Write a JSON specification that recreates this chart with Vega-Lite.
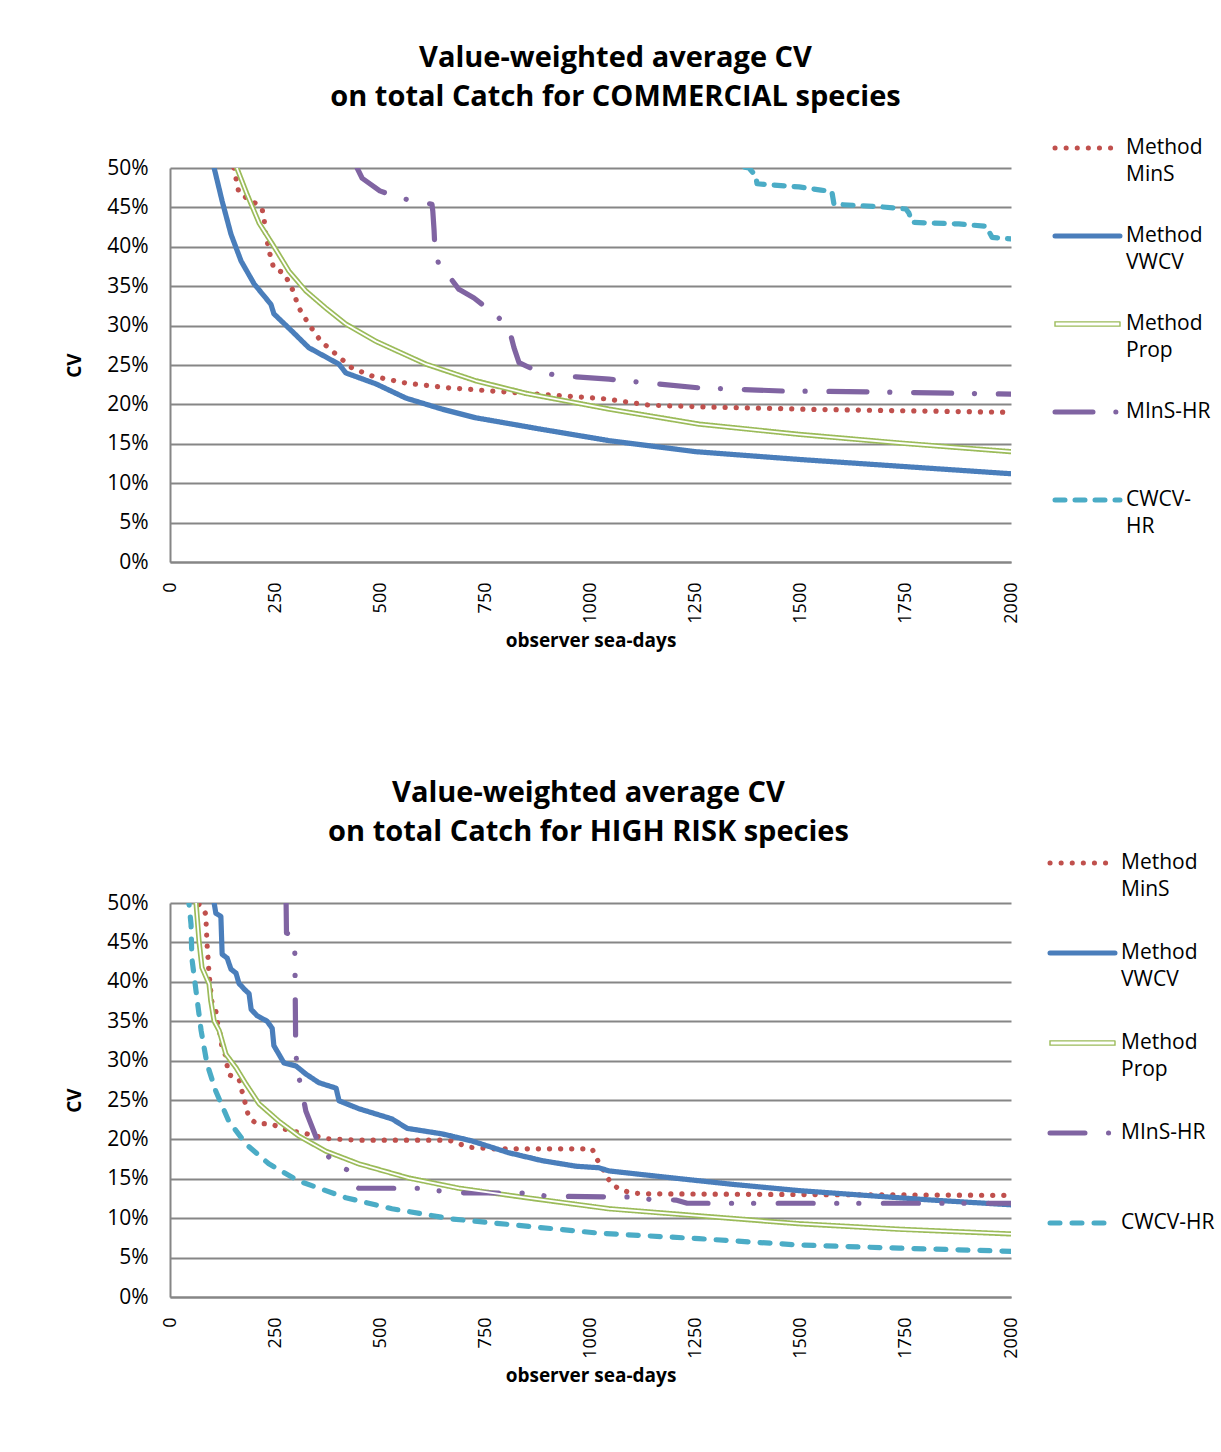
{
  "$schema": "https://vega.github.io/schema/vega-lite/v6.json",
  "background": "white",
  "padding": {"left": 65, "top": 43, "right": 5, "bottom": 5},
  "config": {
    "font": "Open Sans",
    "view": {"stroke": null},
    "axis": {
      "domainColor": "#868686", "domainWidth": 2,
      "gridColor": "#868686", "gridWidth": 2,
      "ticks": false,
      "labelFont": "Open Sans", "labelColor": "black",
      "titleFont": "Open Sans", "titleFontWeight": "bold", "titleColor": "black", "titleFontSize": 19
    },
    "axisX": {"grid": false, "labelAngle": -90, "labelPadding": 20, "labelFontSize": 18, "titlePadding": 8, "format": "d"},
    "axisY": {"grid": true, "labelPadding": 22, "labelFontSize": 21, "titlePadding": 22},
    "title": {"font": "Open Sans", "fontSize": 29, "fontWeight": "bold", "lineHeight": 39, "anchor": "middle", "frame": "group", "color": "black"},
    "legend": {
      "orient": "none", "title": null, "padding": 0, "symbolType": "stroke", "symbolSize": 4225,
      "symbolStrokeWidth": 5, "labelFont": "Open Sans", "labelFontSize": 21, "labelColor": "black",
      "labelLimit": 300, "labelOffset": 28, "labelBaseline": "alphabetic", "direction": "vertical", "columns": 1
    }
  },
  "datasets": {
    "commercial": [
      {"series": "Method MinS", "days": 152, "cv": 50.0}, {"series": "Method MinS", "days": 155, "cv": 49.2},
      {"series": "Method MinS", "days": 164, "cv": 46.8}, {"series": "Method MinS", "days": 207, "cv": 45.4},
      {"series": "Method MinS", "days": 219, "cv": 44.8}, {"series": "Method MinS", "days": 224, "cv": 43.5},
      {"series": "Method MinS", "days": 226, "cv": 42.0}, {"series": "Method MinS", "days": 231, "cv": 40.7},
      {"series": "Method MinS", "days": 235, "cv": 39.6}, {"series": "Method MinS", "days": 247, "cv": 37.2},
      {"series": "Method MinS", "days": 271, "cv": 36.7}, {"series": "Method MinS", "days": 291, "cv": 34.6},
      {"series": "Method MinS", "days": 307, "cv": 32.2}, {"series": "Method MinS", "days": 331, "cv": 30.1},
      {"series": "Method MinS", "days": 359, "cv": 28.0}, {"series": "Method MinS", "days": 394, "cv": 26.4},
      {"series": "Method MinS", "days": 433, "cv": 24.6}, {"series": "Method MinS", "days": 481, "cv": 23.6},
      {"series": "Method MinS", "days": 561, "cv": 22.7}, {"series": "Method MinS", "days": 663, "cv": 22.1},
      {"series": "Method MinS", "days": 766, "cv": 21.7}, {"series": "Method MinS", "days": 877, "cv": 21.3},
      {"series": "Method MinS", "days": 1036, "cv": 20.7}, {"series": "Method MinS", "days": 1139, "cv": 19.9},
      {"series": "Method MinS", "days": 1258, "cv": 19.7}, {"series": "Method MinS", "days": 1496, "cv": 19.4},
      {"series": "Method MinS", "days": 1734, "cv": 19.2}, {"series": "Method MinS", "days": 2000, "cv": 19.0},

      {"series": "Method VWCV", "days": 100, "cv": 51.0}, {"series": "Method VWCV", "days": 105, "cv": 50.0},
      {"series": "Method VWCV", "days": 124, "cv": 45.8}, {"series": "Method VWCV", "days": 145, "cv": 41.6},
      {"series": "Method VWCV", "days": 169, "cv": 38.2}, {"series": "Method VWCV", "days": 200, "cv": 35.3},
      {"series": "Method VWCV", "days": 240, "cv": 32.7}, {"series": "Method VWCV", "days": 247, "cv": 31.5},
      {"series": "Method VWCV", "days": 290, "cv": 29.3}, {"series": "Method VWCV", "days": 330, "cv": 27.2},
      {"series": "Method VWCV", "days": 402, "cv": 25.1}, {"series": "Method VWCV", "days": 418, "cv": 24.0},
      {"series": "Method VWCV", "days": 490, "cv": 22.6}, {"series": "Method VWCV", "days": 561, "cv": 20.8},
      {"series": "Method VWCV", "days": 647, "cv": 19.4}, {"series": "Method VWCV", "days": 727, "cv": 18.3},
      {"series": "Method VWCV", "days": 877, "cv": 16.9}, {"series": "Method VWCV", "days": 1044, "cv": 15.4},
      {"series": "Method VWCV", "days": 1250, "cv": 14.0}, {"series": "Method VWCV", "days": 1500, "cv": 13.0},
      {"series": "Method VWCV", "days": 1750, "cv": 12.1}, {"series": "Method VWCV", "days": 2000, "cv": 11.2},

      {"series": "Method Prop", "days": 159, "cv": 50.0}, {"series": "Method Prop", "days": 183, "cv": 46.7},
      {"series": "Method Prop", "days": 212, "cv": 43.0}, {"series": "Method Prop", "days": 243, "cv": 40.4},
      {"series": "Method Prop", "days": 283, "cv": 36.9}, {"series": "Method Prop", "days": 323, "cv": 34.4},
      {"series": "Method Prop", "days": 371, "cv": 32.2}, {"series": "Method Prop", "days": 418, "cv": 30.2},
      {"series": "Method Prop", "days": 490, "cv": 28.0}, {"series": "Method Prop", "days": 609, "cv": 25.1},
      {"series": "Method Prop", "days": 727, "cv": 23.0}, {"series": "Method Prop", "days": 846, "cv": 21.4},
      {"series": "Method Prop", "days": 1044, "cv": 19.4}, {"series": "Method Prop", "days": 1258, "cv": 17.5},
      {"series": "Method Prop", "days": 1496, "cv": 16.2}, {"series": "Method Prop", "days": 1734, "cv": 15.1},
      {"series": "Method Prop", "days": 2000, "cv": 14.0},

      {"series": "MInS-HR", "days": 445, "cv": 50.0}, {"series": "MInS-HR", "days": 457, "cv": 48.7},
      {"series": "MInS-HR", "days": 499, "cv": 47.1}, {"series": "MInS-HR", "days": 545, "cv": 46.2},
      {"series": "MInS-HR", "days": 623, "cv": 45.4}, {"series": "MInS-HR", "days": 625, "cv": 44.5},
      {"series": "MInS-HR", "days": 628, "cv": 42.1}, {"series": "MInS-HR", "days": 630, "cv": 39.7},
      {"series": "MInS-HR", "days": 638, "cv": 38.0}, {"series": "MInS-HR", "days": 647, "cv": 36.9},
      {"series": "MInS-HR", "days": 663, "cv": 36.3}, {"series": "MInS-HR", "days": 687, "cv": 34.6},
      {"series": "MInS-HR", "days": 723, "cv": 33.5}, {"series": "MInS-HR", "days": 778, "cv": 31.2},
      {"series": "MInS-HR", "days": 806, "cv": 29.7}, {"series": "MInS-HR", "days": 818, "cv": 27.2},
      {"series": "MInS-HR", "days": 830, "cv": 25.3}, {"series": "MInS-HR", "days": 866, "cv": 24.4},
      {"series": "MInS-HR", "days": 916, "cv": 23.7}, {"series": "MInS-HR", "days": 966, "cv": 23.5},
      {"series": "MInS-HR", "days": 1044, "cv": 23.2}, {"series": "MInS-HR", "days": 1158, "cv": 22.6},
      {"series": "MInS-HR", "days": 1258, "cv": 22.1}, {"series": "MInS-HR", "days": 1455, "cv": 21.7},
      {"series": "MInS-HR", "days": 1655, "cv": 21.6}, {"series": "MInS-HR", "days": 2000, "cv": 21.3},

      {"series": "CWCV-HR", "days": 1320, "cv": 50.6}, {"series": "CWCV-HR", "days": 1377, "cv": 50.0},
      {"series": "CWCV-HR", "days": 1393, "cv": 49.0}, {"series": "CWCV-HR", "days": 1396, "cv": 48.0},
      {"series": "CWCV-HR", "days": 1496, "cv": 47.6}, {"series": "CWCV-HR", "days": 1548, "cv": 47.2},
      {"series": "CWCV-HR", "days": 1574, "cv": 47.0}, {"series": "CWCV-HR", "days": 1579, "cv": 45.4},
      {"series": "CWCV-HR", "days": 1686, "cv": 45.1}, {"series": "CWCV-HR", "days": 1750, "cv": 44.8},
      {"series": "CWCV-HR", "days": 1757, "cv": 44.3}, {"series": "CWCV-HR", "days": 1765, "cv": 43.1},
      {"series": "CWCV-HR", "days": 1876, "cv": 42.9}, {"series": "CWCV-HR", "days": 1941, "cv": 42.6},
      {"series": "CWCV-HR", "days": 1955, "cv": 41.2}, {"series": "CWCV-HR", "days": 2000, "cv": 41.0}
    ],
    "highrisk": [
      {"series": "Method MinS", "days": 60, "cv": 51.0}, {"series": "Method MinS", "days": 62, "cv": 50.0},
      {"series": "Method MinS", "days": 76, "cv": 49.6}, {"series": "Method MinS", "days": 85, "cv": 48.6},
      {"series": "Method MinS", "days": 86, "cv": 47.3}, {"series": "Method MinS", "days": 87, "cv": 46.1},
      {"series": "Method MinS", "days": 88, "cv": 44.8}, {"series": "Method MinS", "days": 90, "cv": 43.5},
      {"series": "Method MinS", "days": 91, "cv": 42.3}, {"series": "Method MinS", "days": 93, "cv": 41.1},
      {"series": "Method MinS", "days": 95, "cv": 39.8}, {"series": "Method MinS", "days": 100, "cv": 37.3},
      {"series": "Method MinS", "days": 109, "cv": 36.3}, {"series": "Method MinS", "days": 112, "cv": 35.0},
      {"series": "Method MinS", "days": 117, "cv": 34.0}, {"series": "Method MinS", "days": 121, "cv": 32.7},
      {"series": "Method MinS", "days": 124, "cv": 31.5}, {"series": "Method MinS", "days": 133, "cv": 30.6},
      {"series": "Method MinS", "days": 136, "cv": 29.3}, {"series": "Method MinS", "days": 140, "cv": 28.2},
      {"series": "Method MinS", "days": 164, "cv": 27.7}, {"series": "Method MinS", "days": 169, "cv": 26.5},
      {"series": "Method MinS", "days": 176, "cv": 25.3}, {"series": "Method MinS", "days": 181, "cv": 24.0},
      {"series": "Method MinS", "days": 188, "cv": 22.8}, {"series": "Method MinS", "days": 205, "cv": 22.0},
      {"series": "Method MinS", "days": 235, "cv": 22.0}, {"series": "Method MinS", "days": 254, "cv": 21.7},
      {"series": "Method MinS", "days": 278, "cv": 21.2}, {"series": "Method MinS", "days": 326, "cv": 20.7},
      {"series": "Method MinS", "days": 371, "cv": 20.1}, {"series": "Method MinS", "days": 449, "cv": 19.9},
      {"series": "Method MinS", "days": 663, "cv": 19.9}, {"series": "Method MinS", "days": 711, "cv": 19.0},
      {"series": "Method MinS", "days": 766, "cv": 18.8}, {"series": "Method MinS", "days": 1004, "cv": 18.8},
      {"series": "Method MinS", "days": 1013, "cv": 17.7}, {"series": "Method MinS", "days": 1032, "cv": 16.0},
      {"series": "Method MinS", "days": 1037, "cv": 15.4}, {"series": "Method MinS", "days": 1051, "cv": 14.3},
      {"series": "Method MinS", "days": 1072, "cv": 13.6}, {"series": "Method MinS", "days": 1099, "cv": 13.2},
      {"series": "Method MinS", "days": 1123, "cv": 13.1}, {"series": "Method MinS", "days": 1500, "cv": 13.0},
      {"series": "Method MinS", "days": 2000, "cv": 12.9},

      {"series": "Method VWCV", "days": 105, "cv": 50.0}, {"series": "Method VWCV", "days": 109, "cv": 48.7},
      {"series": "Method VWCV", "days": 121, "cv": 48.3}, {"series": "Method VWCV", "days": 124, "cv": 43.5},
      {"series": "Method VWCV", "days": 136, "cv": 43.0}, {"series": "Method VWCV", "days": 145, "cv": 41.6},
      {"series": "Method VWCV", "days": 157, "cv": 41.1}, {"series": "Method VWCV", "days": 164, "cv": 39.8},
      {"series": "Method VWCV", "days": 176, "cv": 39.1}, {"series": "Method VWCV", "days": 188, "cv": 38.5},
      {"series": "Method VWCV", "days": 193, "cv": 36.5}, {"series": "Method VWCV", "days": 207, "cv": 35.7},
      {"series": "Method VWCV", "days": 231, "cv": 35.0}, {"series": "Method VWCV", "days": 243, "cv": 34.1},
      {"series": "Method VWCV", "days": 247, "cv": 31.9}, {"series": "Method VWCV", "days": 259, "cv": 30.8},
      {"series": "Method VWCV", "days": 271, "cv": 29.7}, {"series": "Method VWCV", "days": 300, "cv": 29.3},
      {"series": "Method VWCV", "days": 323, "cv": 28.3}, {"series": "Method VWCV", "days": 354, "cv": 27.2},
      {"series": "Method VWCV", "days": 395, "cv": 26.5}, {"series": "Method VWCV", "days": 402, "cv": 24.9},
      {"series": "Method VWCV", "days": 449, "cv": 23.9}, {"series": "Method VWCV", "days": 528, "cv": 22.6},
      {"series": "Method VWCV", "days": 564, "cv": 21.4}, {"series": "Method VWCV", "days": 647, "cv": 20.7},
      {"series": "Method VWCV", "days": 718, "cv": 19.8}, {"series": "Method VWCV", "days": 806, "cv": 18.3},
      {"series": "Method VWCV", "days": 885, "cv": 17.3}, {"series": "Method VWCV", "days": 965, "cv": 16.6},
      {"series": "Method VWCV", "days": 1020, "cv": 16.4}, {"series": "Method VWCV", "days": 1044, "cv": 16.0},
      {"series": "Method VWCV", "days": 1180, "cv": 15.2}, {"series": "Method VWCV", "days": 1337, "cv": 14.3},
      {"series": "Method VWCV", "days": 1496, "cv": 13.5}, {"series": "Method VWCV", "days": 1679, "cv": 12.8},
      {"series": "Method VWCV", "days": 1812, "cv": 12.3}, {"series": "Method VWCV", "days": 2000, "cv": 11.7},

      {"series": "Method Prop", "days": 62, "cv": 50.0}, {"series": "Method Prop", "days": 69, "cv": 45.2},
      {"series": "Method Prop", "days": 76, "cv": 41.8}, {"series": "Method Prop", "days": 93, "cv": 39.7},
      {"series": "Method Prop", "days": 97, "cv": 37.6}, {"series": "Method Prop", "days": 105, "cv": 35.0},
      {"series": "Method Prop", "days": 117, "cv": 33.8}, {"series": "Method Prop", "days": 133, "cv": 30.8},
      {"series": "Method Prop", "days": 157, "cv": 29.1}, {"series": "Method Prop", "days": 181, "cv": 27.0},
      {"series": "Method Prop", "days": 212, "cv": 24.5}, {"series": "Method Prop", "days": 259, "cv": 22.3},
      {"series": "Method Prop", "days": 307, "cv": 20.4}, {"series": "Method Prop", "days": 371, "cv": 18.5},
      {"series": "Method Prop", "days": 449, "cv": 16.9}, {"series": "Method Prop", "days": 568, "cv": 15.1},
      {"series": "Method Prop", "days": 687, "cv": 13.8}, {"series": "Method Prop", "days": 847, "cv": 12.6},
      {"series": "Method Prop", "days": 1044, "cv": 11.2}, {"series": "Method Prop", "days": 1258, "cv": 10.3},
      {"series": "Method Prop", "days": 1496, "cv": 9.3}, {"series": "Method Prop", "days": 1734, "cv": 8.6},
      {"series": "Method Prop", "days": 2000, "cv": 8.0},

      {"series": "MInS-HR", "days": 276, "cv": 50.5}, {"series": "MInS-HR", "days": 277, "cv": 46.2},
      {"series": "MInS-HR", "days": 293, "cv": 45.8}, {"series": "MInS-HR", "days": 297, "cv": 43.5},
      {"series": "MInS-HR", "days": 299, "cv": 31.2}, {"series": "MInS-HR", "days": 303, "cv": 28.7},
      {"series": "MInS-HR", "days": 314, "cv": 26.1}, {"series": "MInS-HR", "days": 323, "cv": 23.6},
      {"series": "MInS-HR", "days": 354, "cv": 19.4}, {"series": "MInS-HR", "days": 383, "cv": 17.4},
      {"series": "MInS-HR", "days": 395, "cv": 16.9}, {"series": "MInS-HR", "days": 426, "cv": 16.0},
      {"series": "MInS-HR", "days": 430, "cv": 14.5}, {"series": "MInS-HR", "days": 449, "cv": 13.8},
      {"series": "MInS-HR", "days": 609, "cv": 13.8}, {"series": "MInS-HR", "days": 633, "cv": 13.5},
      {"series": "MInS-HR", "days": 704, "cv": 13.2}, {"series": "MInS-HR", "days": 859, "cv": 13.2},
      {"series": "MInS-HR", "days": 894, "cv": 12.8}, {"series": "MInS-HR", "days": 1056, "cv": 12.7},
      {"series": "MInS-HR", "days": 1108, "cv": 12.7}, {"series": "MInS-HR", "days": 1139, "cv": 12.4},
      {"series": "MInS-HR", "days": 1203, "cv": 12.3}, {"series": "MInS-HR", "days": 1230, "cv": 11.9},
      {"series": "MInS-HR", "days": 2000, "cv": 11.9},

      {"series": "CWCV-HR", "days": 44, "cv": 51.0}, {"series": "CWCV-HR", "days": 45, "cv": 50.0},
      {"series": "CWCV-HR", "days": 50, "cv": 47.3}, {"series": "CWCV-HR", "days": 52, "cv": 43.0},
      {"series": "CWCV-HR", "days": 62, "cv": 38.8}, {"series": "CWCV-HR", "days": 74, "cv": 33.8},
      {"series": "CWCV-HR", "days": 88, "cv": 29.6}, {"series": "CWCV-HR", "days": 109, "cv": 26.1},
      {"series": "CWCV-HR", "days": 140, "cv": 22.3}, {"series": "CWCV-HR", "days": 181, "cv": 19.4},
      {"series": "CWCV-HR", "days": 235, "cv": 16.9}, {"series": "CWCV-HR", "days": 307, "cv": 14.7},
      {"series": "CWCV-HR", "days": 418, "cv": 12.6}, {"series": "CWCV-HR", "days": 528, "cv": 11.2},
      {"series": "CWCV-HR", "days": 671, "cv": 9.9}, {"series": "CWCV-HR", "days": 1020, "cv": 8.1},
      {"series": "CWCV-HR", "days": 1258, "cv": 7.4}, {"series": "CWCV-HR", "days": 1496, "cv": 6.6},
      {"series": "CWCV-HR", "days": 1734, "cv": 6.2}, {"series": "CWCV-HR", "days": 2000, "cv": 5.8}
    ]
  },
  "spacing": 127,
  "resolve": {"scale": {"x": "independent", "y": "independent", "color": "independent", "strokeDash": "independent"}},
  "vconcat": [
    {
      "title": {"text": ["Value-weighted average CV", "on total Catch for COMMERCIAL species"], "dx": 25, "offset": 26},
      "width": 841,
      "height": 394,
      "data": {"name": "commercial"},
      "encoding": {
        "x": {"field": "days", "type": "quantitative", "scale": {"domain": [0, 2000], "nice": false},
              "axis": {"values": [0, 250, 500, 750, 1000, 1250, 1500, 1750, 2000], "title": "observer sea-days"}},
        "y": {"field": "cv", "type": "quantitative", "scale": {"domain": [0, 50], "nice": false},
              "axis": {"values": [0, 5, 10, 15, 20, 25, 30, 35, 40, 45, 50], "labelExpr": "datum.value + '%'", "title": "CV"}}
      },
      "layer": [
        {
          "mark": {"type": "line", "clip": true, "strokeWidth": 5.2, "strokeCap": "round", "strokeJoin": "round"},
          "encoding": {
            "color": {
              "field": "series", "type": "nominal",
              "scale": {"domain": ["Method MinS", "Method VWCV", "Method Prop", "MInS-HR", "CWCV-HR"],
                        "range": ["#C0504D", "#4A7EBB", "#9BBB59", "#8064A2", "#4BACC6"]},
              "legend": {
                "legendX": 907, "legendY": -30.5, "rowPadding": 39,
                "labelExpr": "datum.label === 'CWCV-HR' ? ['CWCV-', 'HR'] : datum.label === 'MInS-HR' ? ['MInS-HR', ''] : split(datum.label, ' ')",
                "encode": {
                  "symbols": {"update": {
                    "shape": {"signal": "datum.value === 'Method Prop' ? 'M-1,-0.065H1V0.065H-1Z' : 'stroke'"},
                    "fill": {"signal": "datum.value === 'Method Prop' ? 'white' : 'transparent'"},
                    "strokeWidth": {"signal": "datum.value === 'Method Prop' ? 1.4 : 5"},
                    "strokeCap": {"value": "round"}
                  }},
                  "labels": {"update": {"dy": {"value": 6}, "lineHeight": {"value": 27}}}
                }
              }
            },
            "strokeDash": {
              "field": "series", "type": "nominal",
              "scale": {"domain": ["Method MinS", "Method VWCV", "Method Prop", "MInS-HR", "CWCV-HR"],
                        "range": [[0.1, 11], [1, 0], [1, 0], [38, 22.8, 0.1, 23.8], [10, 10]]},
              "legend": {
                "legendX": 907, "legendY": -30.5, "rowPadding": 39,
                "labelExpr": "datum.label === 'CWCV-HR' ? ['CWCV-', 'HR'] : datum.label === 'MInS-HR' ? ['MInS-HR', ''] : split(datum.label, ' ')",
                "encode": {
                  "symbols": {"update": {
                    "shape": {"signal": "datum.value === 'Method Prop' ? 'M-1,-0.065H1V0.065H-1Z' : 'stroke'"},
                    "fill": {"signal": "datum.value === 'Method Prop' ? 'white' : 'transparent'"},
                    "strokeWidth": {"signal": "datum.value === 'Method Prop' ? 1.4 : 5"},
                    "strokeCap": {"value": "round"}
                  }},
                  "labels": {"update": {"dy": {"value": 6}, "lineHeight": {"value": 27}}}
                }
              }
            }
          }
        },
        {
          "transform": [{"filter": "datum.series === 'Method Prop'"}],
          "mark": {"type": "line", "clip": true, "strokeWidth": 1.8, "color": "white", "strokeJoin": "round"},
          "encoding": {}
        }
      ]
    },
    {
      "title": {"text": ["Value-weighted average CV", "on total Catch for HIGH RISK species"], "dx": -2, "offset": 6},
      "width": 841,
      "height": 394,
      "data": {"name": "highrisk"},
      "encoding": {
        "x": {"field": "days", "type": "quantitative", "scale": {"domain": [0, 2000], "nice": false},
              "axis": {"values": [0, 250, 500, 750, 1000, 1250, 1500, 1750, 2000], "title": "observer sea-days"}},
        "y": {"field": "cv", "type": "quantitative", "scale": {"domain": [0, 50], "nice": false},
              "axis": {"values": [0, 5, 10, 15, 20, 25, 30, 35, 40, 45, 50], "labelExpr": "datum.value + '%'", "title": "CV"}}
      },
      "layer": [
        {
          "mark": {"type": "line", "clip": true, "strokeWidth": 5.2, "strokeCap": "round", "strokeJoin": "round"},
          "encoding": {
            "color": {
              "field": "series", "type": "nominal",
              "scale": {"domain": ["Method MinS", "Method VWCV", "Method Prop", "MInS-HR", "CWCV-HR"],
                        "range": ["#C0504D", "#4A7EBB", "#9BBB59", "#8064A2", "#4BACC6"]},
              "legend": {
                "legendX": 902, "legendY": -50.5, "rowPadding": 41,
                "labelExpr": "indexof(datum.label, 'Method') === 0 ? split(datum.label, ' ') : [datum.label, '']",
                "encode": {
                  "symbols": {"update": {
                    "shape": {"signal": "datum.value === 'Method Prop' ? 'M-1,-0.065H1V0.065H-1Z' : 'stroke'"},
                    "fill": {"signal": "datum.value === 'Method Prop' ? 'white' : 'transparent'"},
                    "strokeWidth": {"signal": "datum.value === 'Method Prop' ? 1.4 : 5"},
                    "strokeCap": {"value": "round"}
                  }},
                  "labels": {"update": {"dy": {"value": 6}, "lineHeight": {"value": 27}}}
                }
              }
            },
            "strokeDash": {
              "field": "series", "type": "nominal",
              "scale": {"domain": ["Method MinS", "Method VWCV", "Method Prop", "MInS-HR", "CWCV-HR"],
                        "range": [[0.1, 11], [1, 0], [1, 0], [35, 23.5, 0.1, 22, 0.1, 24.5], [10, 12]]},
              "legend": {
                "legendX": 902, "legendY": -50.5, "rowPadding": 41,
                "labelExpr": "indexof(datum.label, 'Method') === 0 ? split(datum.label, ' ') : [datum.label, '']",
                "encode": {
                  "symbols": {"update": {
                    "shape": {"signal": "datum.value === 'Method Prop' ? 'M-1,-0.065H1V0.065H-1Z' : 'stroke'"},
                    "fill": {"signal": "datum.value === 'Method Prop' ? 'white' : 'transparent'"},
                    "strokeWidth": {"signal": "datum.value === 'Method Prop' ? 1.4 : 5"},
                    "strokeCap": {"value": "round"}
                  }},
                  "labels": {"update": {"dy": {"value": 6}, "lineHeight": {"value": 27}}}
                }
              }
            }
          }
        },
        {
          "transform": [{"filter": "datum.series === 'Method Prop'"}],
          "mark": {"type": "line", "clip": true, "strokeWidth": 1.8, "color": "white", "strokeJoin": "round"},
          "encoding": {}
        }
      ]
    }
  ]
}
